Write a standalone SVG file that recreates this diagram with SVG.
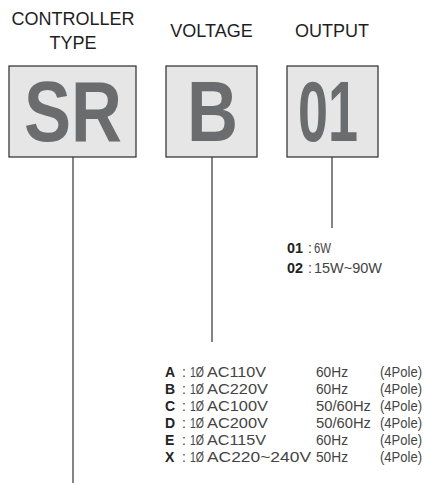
<svg xmlns="http://www.w3.org/2000/svg" width="425" height="483" viewBox="0 0 425 483">
<style>
.hd{font-family:"Liberation Sans",Arial,sans-serif;font-size:18px;fill:#1e1e1e;text-anchor:middle}
.box{fill:#e6e6e6;stroke:#3a3a3a;stroke-width:1.3}
.big{font-family:"Liberation Sans",Arial,sans-serif;font-weight:bold;font-size:85px;fill:#6b6c6e}
.ln{stroke:#333;stroke-width:1.2;fill:none}
.t{font-family:"Liberation Sans",Arial,sans-serif;font-size:14px;fill:#444}
.b{font-family:"Liberation Sans",Arial,sans-serif;font-size:14px;font-weight:bold;fill:#222}
</style>
<rect width="425" height="483" fill="#fff"/>
<g id="connectors">
<line class="ln" x1="73" y1="157" x2="73" y2="483"/>
<line class="ln" x1="212" y1="157" x2="212" y2="342"/>
<line class="ln" x1="332" y1="157" x2="332" y2="228"/>
</g>
<g id="controller-type">
<text class="hd" x="73" y="25">CONTROLLER</text>
<text class="hd" x="73" y="49">TYPE</text>
<rect class="box" x="9" y="66" width="127" height="91"/>
<text class="big" x="24" y="141" textLength="98" lengthAdjust="spacingAndGlyphs">SR</text>
</g>
<g id="voltage">
<text class="hd" x="211.5" y="37">VOLTAGE</text>
<rect class="box" x="166" y="66" width="91" height="91"/>
<text class="big" x="187" y="141" textLength="51" lengthAdjust="spacingAndGlyphs">B</text>
</g>
<g id="output">
<text class="hd" x="332" y="37">OUTPUT</text>
<rect class="box" x="287" y="66" width="91" height="91"/>
<text class="big" x="298" y="141" textLength="60" lengthAdjust="spacingAndGlyphs" font-weight="600">01</text>
</g>
<g id="output-list">
<text class="b" x="287" y="253" textLength="16" lengthAdjust="spacingAndGlyphs">01</text><text class="t" x="308" y="253">:</text><text class="t" x="314" y="253" textLength="17" lengthAdjust="spacingAndGlyphs">6W</text>
<text class="b" x="287" y="273" textLength="16" lengthAdjust="spacingAndGlyphs">02</text><text class="t" x="308" y="273">:</text><text class="t" x="314" y="273" textLength="68" lengthAdjust="spacingAndGlyphs">15W~90W</text>
</g>
<g id="voltage-list" lengthAdjust="spacingAndGlyphs">
<text class="b" x="165" y="377">A</text><text class="t" x="182" y="377">:</text><text class="t" x="190" y="377" textLength="14" lengthAdjust="spacingAndGlyphs">1Ø</text><text class="t" x="207" y="377" textLength="59" lengthAdjust="spacingAndGlyphs">AC110V</text><text class="t" x="316" y="377" textLength="32" lengthAdjust="spacingAndGlyphs">60Hz</text><text class="t" x="380" y="377" textLength="42" lengthAdjust="spacingAndGlyphs">(4Pole)</text>
<text class="b" x="165" y="394">B</text><text class="t" x="182" y="394">:</text><text class="t" x="190" y="394" textLength="14" lengthAdjust="spacingAndGlyphs">1Ø</text><text class="t" x="207" y="394" textLength="61" lengthAdjust="spacingAndGlyphs">AC220V</text><text class="t" x="316" y="394" textLength="32" lengthAdjust="spacingAndGlyphs">60Hz</text><text class="t" x="380" y="394" textLength="42" lengthAdjust="spacingAndGlyphs">(4Pole)</text>
<text class="b" x="165" y="411">C</text><text class="t" x="182" y="411">:</text><text class="t" x="190" y="411" textLength="14" lengthAdjust="spacingAndGlyphs">1Ø</text><text class="t" x="207" y="411" textLength="61" lengthAdjust="spacingAndGlyphs">AC100V</text><text class="t" x="316" y="411" textLength="55" lengthAdjust="spacingAndGlyphs">50/60Hz</text><text class="t" x="380" y="411" textLength="42" lengthAdjust="spacingAndGlyphs">(4Pole)</text>
<text class="b" x="165" y="428">D</text><text class="t" x="182" y="428">:</text><text class="t" x="190" y="428" textLength="14" lengthAdjust="spacingAndGlyphs">1Ø</text><text class="t" x="207" y="428" textLength="61" lengthAdjust="spacingAndGlyphs">AC200V</text><text class="t" x="316" y="428" textLength="55" lengthAdjust="spacingAndGlyphs">50/60Hz</text><text class="t" x="380" y="428" textLength="42" lengthAdjust="spacingAndGlyphs">(4Pole)</text>
<text class="b" x="165" y="445">E</text><text class="t" x="182" y="445">:</text><text class="t" x="190" y="445" textLength="14" lengthAdjust="spacingAndGlyphs">1Ø</text><text class="t" x="207" y="445" textLength="59" lengthAdjust="spacingAndGlyphs">AC115V</text><text class="t" x="316" y="445" textLength="32" lengthAdjust="spacingAndGlyphs">60Hz</text><text class="t" x="380" y="445" textLength="42" lengthAdjust="spacingAndGlyphs">(4Pole)</text>
<text class="b" x="165" y="462">X</text><text class="t" x="182" y="462">:</text><text class="t" x="190" y="462" textLength="14" lengthAdjust="spacingAndGlyphs">1Ø</text><text class="t" x="207" y="462" textLength="104" lengthAdjust="spacingAndGlyphs">AC220~240V</text><text class="t" x="316" y="462" textLength="32" lengthAdjust="spacingAndGlyphs">50Hz</text><text class="t" x="380" y="462" textLength="42" lengthAdjust="spacingAndGlyphs">(4Pole)</text>
</g>
</svg>
